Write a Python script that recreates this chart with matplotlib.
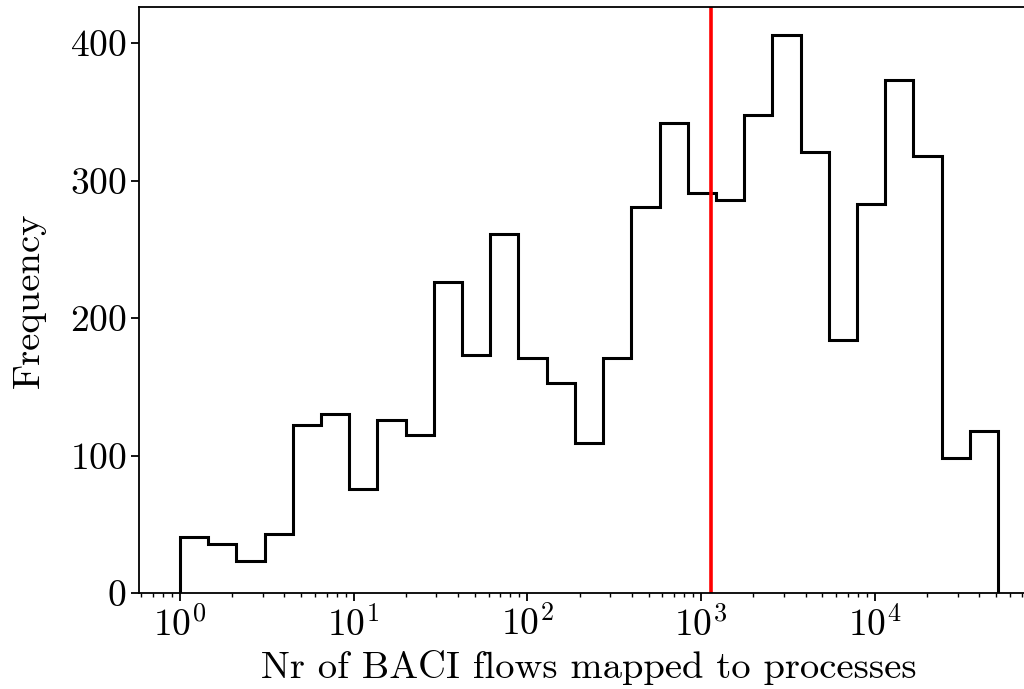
import numpy as np
import matplotlib
matplotlib.use("Agg")
import matplotlib.pyplot as plt

# ---- data ----
counts = [41, 36, 23, 43, 122, 130, 76, 126, 115, 226, 173, 261, 171, 153, 109,
          171, 281, 342, 291, 286, 348, 406, 321, 184, 283, 373, 318, 98, 118]
bin_lo = 1.0
bin_hi = 51300.0
median_value = 1142.0
xlabel = "Nr of BACI flows mapped to processes"
ylabel = "Frequency"

edges = np.logspace(np.log10(bin_lo), np.log10(bin_hi), len(counts) + 1)

plt.rcParams['font.family'] = ['cmr10']
plt.rcParams['mathtext.fontset'] = 'cm'
plt.rcParams['axes.formatter.use_mathtext'] = True
plt.rcParams['axes.unicode_minus'] = False

fig = plt.figure(figsize=(10.24, 6.89), dpi=100)
ax = fig.add_axes([139/1024, 96/689, 900/1024, 586/689])

ax.hist(edges[:-1], bins=edges, weights=counts, histtype='step',
        color='black', linewidth=2.2)
ax.set_xscale('log')
ax.axvline(median_value, color='red', linewidth=2.6)

ax.set_xlabel(xlabel, fontsize=27.8, labelpad=5)
ax.set_ylabel(ylabel, fontsize=27.8, labelpad=17)
ax.tick_params(axis='both', which='major', labelsize=27, length=5.6, width=1.3)
ax.tick_params(axis='both', which='minor', length=3.2, width=1.0)
for s in ax.spines.values():
    s.set_linewidth(1.3)
ax.set_yticks([0, 100, 200, 300, 400])

fig.savefig("out.png", dpi=100)
